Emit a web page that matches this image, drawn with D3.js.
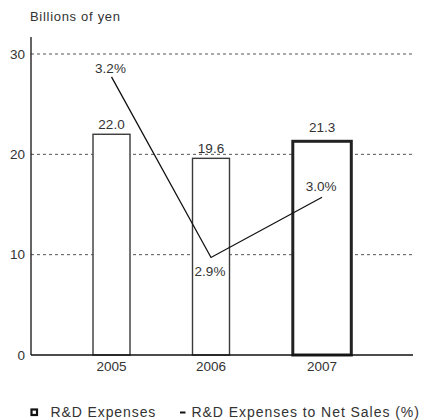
<!DOCTYPE html>
<html>
<head>
<meta charset="utf-8">
<script src="https://cdn.jsdelivr.net/npm/d3@7"></script>
<style>
  html, body { margin: 0; padding: 0; background: #fff; }
  svg { display: block; font-family: "Liberation Sans", Arial, sans-serif; }
  text { fill: #333; }
</style>
</head>
<body>
<svg id="chart" width="422" height="420"></svg>
<script>
// R&D expenses (billions of yen) and their ratio to net sales (%)
const years = ["2005", "2006", "2007"];
const rdExpenses = [22.0, 19.6, 21.3];
const rdRatio = [3.2, 2.9, 3.0];
const yTicks = [0, 10, 20, 30];
const unitLabel = "Billions of yen";
const legendLabels = ["R&D Expenses", "R&D Expenses to Net Sales (%)"];

const svg = d3.select("#chart");
const plotLeft = 31, plotRight = 413, axisTop = 37;

const y = d3.scaleLinear().domain([0, 30]).range([355, 54]);
const yPct = d3.scaleLinear().domain([2.738, 3.238]).range([355, 54]);
const x = d3.scaleBand().domain(years).range([92.3, 390.8]);

const lastYear = years[years.length - 1];
const barInset = d => d === lastYear ? 1.5 : 0.7;
const barWidth = d => d === lastYear ? 58.5 : 37;
const barCenter = d => x(d) + barInset(d) + barWidth(d) / 2;

// unit caption
svg.append("text")
  .attr("x", 30).attr("y", 20.5)
  .attr("font-size", 13)
  .attr("letter-spacing", 0.7)
  .attr("fill", "#444")
  .text(unitLabel);

// dotted gridlines
svg.append("g")
  .selectAll("line")
  .data(yTicks.filter(t => t > 0))
  .join("line")
  .attr("x1", plotLeft).attr("x2", plotRight)
  .attr("y1", d => y(d)).attr("y2", d => y(d))
  .attr("stroke", "#555")
  .attr("stroke-width", 1)
  .attr("stroke-dasharray", "3,3");

// y axis
const yAxis = svg.append("g")
  .attr("transform", `translate(${plotLeft},0)`)
  .call(d3.axisLeft(y).tickValues(yTicks).tickSize(0).tickPadding(6));
yAxis.select(".domain")
  .attr("d", `M0,${y(0)}V${axisTop}`)
  .attr("stroke", "#111").attr("stroke-width", 1.3);
yAxis.selectAll("text")
  .attr("font-size", 13.5)
  .attr("font-family", "Liberation Sans, Arial, sans-serif")
  .attr("fill", "#333");

// bars
svg.append("g")
  .selectAll("rect")
  .data(years)
  .join("rect")
  .attr("x", d => x(d) + barInset(d))
  .attr("width", d => barWidth(d))
  .attr("y", (d, i) => y(rdExpenses[i]))
  .attr("height", (d, i) => y(0) - y(rdExpenses[i]))
  .attr("fill", "#fff")
  .attr("stroke", d => d === lastYear ? "#222" : "#3a3a3a")
  .attr("stroke-width", d => d === lastYear ? 3 : 1.4);

// x axis baseline
svg.append("line")
  .attr("x1", plotLeft).attr("x2", plotRight)
  .attr("y1", y(0)).attr("y2", y(0))
  .attr("stroke", "#111").attr("stroke-width", 1.3);

// year labels
svg.append("g")
  .selectAll("text")
  .data(years)
  .join("text")
  .attr("x", d => barCenter(d))
  .attr("y", 371)
  .attr("text-anchor", "middle")
  .attr("font-size", 13.5)
  .text(d => d);

// bar value labels
svg.append("g")
  .selectAll("text")
  .data(years)
  .join("text")
  .attr("x", d => barCenter(d))
  .attr("y", (d, i) => y(rdExpenses[i]) - (d === lastYear ? 9 : 5))
  .attr("text-anchor", "middle")
  .attr("font-size", 13.5)
  .text((d, i) => rdExpenses[i].toFixed(1));

// ratio line
const line = d3.line()
  .x((d, i) => barCenter(years[i]))
  .y(d => yPct(d));
svg.append("path")
  .datum(rdRatio)
  .attr("d", line)
  .attr("fill", "none")
  .attr("stroke", "#111")
  .attr("stroke-width", 1.3);

// ratio labels: above the point, except where the line dips
const pctOffset = [-4, 19, -6];
svg.append("g")
  .selectAll("text")
  .data(rdRatio)
  .join("text")
  .attr("x", (d, i) => barCenter(years[i]) - 1)
  .attr("y", (d, i) => yPct(d) + pctOffset[i])
  .attr("text-anchor", "middle")
  .attr("font-size", 13.5)
  .text(d => d.toFixed(1) + "%");

// legend
const legend = svg.append("g");
legend.append("rect")
  .attr("x", 31.5).attr("y", 409.5)
  .attr("width", 5.5).attr("height", 5.5)
  .attr("fill", "#fff")
  .attr("stroke", "#111").attr("stroke-width", 2.2);
legend.append("text")
  .attr("x", 50.5).attr("y", 417)
  .attr("font-size", 14)
  .attr("letter-spacing", 0.9)
  .text(legendLabels[0]);
legend.append("line")
  .attr("x1", 180).attr("x2", 185.5)
  .attr("y1", 412.5).attr("y2", 412.5)
  .attr("stroke", "#111").attr("stroke-width", 2);
legend.append("text")
  .attr("x", 191.5).attr("y", 417)
  .attr("font-size", 14)
  .attr("letter-spacing", 0.95)
  .text(legendLabels[1]);
</script>
</body>
</html>
